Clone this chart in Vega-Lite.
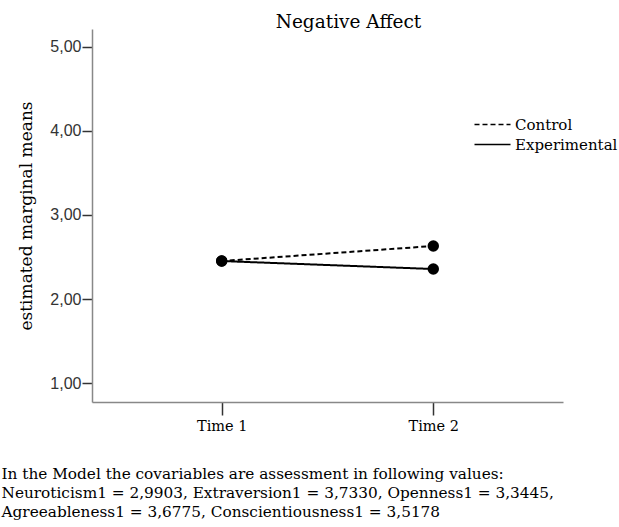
{
  "$schema": "https://vega.github.io/schema/vega-lite/v6.json",
  "autosize": "none",
  "width": 471,
  "height": 373,
  "padding": {"left": 92, "top": 29, "right": 56, "bottom": 125},
  "background": "white",
  "title": {
    "text": "Negative Affect",
    "font": "DejaVu Serif",
    "fontSize": 18.5,
    "fontWeight": "normal",
    "color": "#000000",
    "anchor": "middle",
    "dx": 21,
    "offset": -2
  },
  "data": {
    "values": [
      {"time": "Time 1", "group": "Control", "mean": 2.452},
      {"time": "Time 2", "group": "Control", "mean": 2.631},
      {"time": "Time 1", "group": "Experimental", "mean": 2.452},
      {"time": "Time 2", "group": "Experimental", "mean": 2.357}
    ]
  },
  "encoding": {
    "x": {
      "field": "time",
      "type": "nominal",
      "scale": {"type": "point", "padding": 0.613},
      "axis": {
        "labelAngle": 0,
        "labelFont": "DejaVu Serif",
        "labelFontSize": 14.5,
        "labelColor": "#000000",
        "labelPadding": 4,
        "tickSize": 13,
        "tickColor": "#333333",
        "tickWidth": 1.5,
        "domainColor": "#888888",
        "domainWidth": 1.5,
        "grid": false,
        "title": [
          "In the Model the covariables are assessment in following values:",
          "Neuroticism1 = 2,9903, Extraversion1 = 3,7330, Openness1 = 3,3445,",
          "Agreeableness1 = 3,6775, Conscientiousness1 = 3,5178"
        ],
        "titleFont": "DejaVu Serif",
        "titleFontSize": 15.3,
        "titleFontWeight": "normal",
        "titleColor": "#000000",
        "titleAnchor": "start",
        "titleAlign": "left",
        "titleBaseline": "top",
        "titleX": -91,
        "titleY": 64,
        "titleLineHeight": 19
      }
    },
    "y": {
      "field": "mean",
      "type": "quantitative",
      "scale": {"domain": [0.774, 5.214], "nice": false, "zero": false},
      "axis": {
        "values": [1, 2, 3, 4, 5],
        "labelExpr": "replace(format(datum.value, '.2f'), '.', ',')",
        "labelFont": "Liberation Sans",
        "labelFontSize": 16,
        "labelColor": "#333333",
        "labelPadding": 1,
        "tickSize": 10,
        "tickColor": "#333333",
        "tickWidth": 1.5,
        "domainColor": "#888888",
        "domainWidth": 1.5,
        "grid": false,
        "title": "estimated marginal means",
        "titleFont": "DejaVu Serif",
        "titleFontSize": 17,
        "titleFontWeight": "normal",
        "titleColor": "#000000",
        "titlePadding": 14
      }
    }
  },
  "layer": [
    {
      "mark": {"type": "line", "color": "#000000", "strokeWidth": 2},
      "encoding": {
        "strokeDash": {
          "field": "group",
          "type": "nominal",
          "scale": {"domain": ["Control", "Experimental"], "range": [[5, 3], [1, 0]]},
          "legend": {
            "title": null,
            "orient": "none",
            "legendX": 393,
            "legendY": 88,
            "symbolType": "M-3,0H3",
            "symbolSize": 144,
            "symbolStrokeWidth": 1.5,
            "symbolStrokeColor": "#000000",
            "labelFont": "DejaVu Serif",
            "labelFontSize": 15,
            "labelColor": "#000000",
            "labelOffset": 15,
            "rowPadding": 4
          }
        }
      }
    },
    {
      "mark": {"type": "point", "filled": true, "color": "#000000", "size": 130, "opacity": 1},
      "encoding": {"detail": {"field": "group"}}
    }
  ],
  "config": {"view": {"stroke": null}}
}
